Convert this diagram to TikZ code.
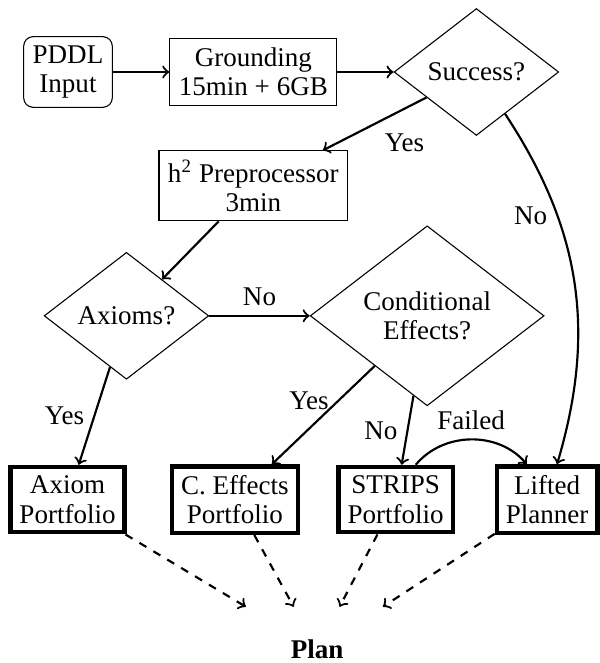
\documentclass[tikz,border=0pt]{standalone}
\usepackage{fontspec}
\setmainfont{Liberation Serif}
\usetikzlibrary{shapes,arrows,positioning}

\begin{document}
\begin{tikzpicture}[
    font=\fontsize{10}{10.8}\selectfont,
    node distance=1.5cm,
    inputbox/.style={rectangle, rounded corners=3.5pt, align=center, draw=black},
    process/.style={rectangle, align=center, draw=black},
    decision/.style={diamond, aspect=2, inner sep=1pt, minimum width=2.14cm, minimum height=1.65cm, align=center, draw=black},
    portfolio/.style={rectangle, align=center, draw=black, ultra thick},
    goal/.style={minimum width=1.95cm, minimum height=1.1cm, font=\fontsize{10}{10.8}\selectfont\bfseries},
    arrow/.style={->, thick}
]
\useasboundingbox (-0.884,0.936) rectangle (6.916,-7.684);

\node[inputbox] (pddl) {PDDL\\Input};
\node[process, right of=pddl, xshift=0.91cm] (ground) {Grounding\\15min + 6GB};
\node[decision, right of=ground, xshift=1.4cm] (success) {Success?};
\node[process, below of=ground, yshift=0.02cm] (h2) {h\textsuperscript{2} Preprocessor\\3min};
\node[decision, below of=h2, yshift=-0.19cm, xshift=-1.65cm] (axioms) {Axioms?};
\node[decision, right of=axioms, xshift=2.41cm, aspect=1.5, minimum width=3.04cm, minimum height=2.34cm] (cond) {Conditional\\Effects?};
\node[portfolio, below of=axioms, yshift=-0.89cm, xshift=-0.766cm] (axport) {Axiom\\Portfolio};
\node[portfolio, right of=axport, xshift=0.676cm] (ceff) {C. Effects\\Portfolio};
\node[portfolio, right of=ceff, xshift=0.59cm] (strips) {STRIPS\\Portfolio};
\node[portfolio, right of=strips, xshift=0.47cm] (lifted) {Lifted\\Planner};
\node[goal, below of=ceff, yshift=-0.45cm, xshift=1.07cm] (plan) {Plan};

\draw[arrow] (pddl) -- (ground);
\draw[arrow] (ground) -- (success);
\draw[arrow] (success) -- node[below right] {Yes} (h2);
\draw[arrow] (success) to[bend left=25] node[pos=0.3, left] {No} (lifted);
\draw[arrow] (h2) -- (axioms);
\draw[arrow] (axioms) -- node[above] {No} (cond);
\draw[arrow] (axioms) -- node[left] {Yes} (axport);
\draw[arrow] (cond) -- node[left, pos=0.35] {Yes} (ceff);
\draw[arrow] (cond) -- node[left] {No} (strips);
\draw[arrow] (strips.60) to[bend left=50] node[above] {Failed} (lifted.120);

\draw[arrow, dashed] (axport) -- (plan);
\draw[arrow, dashed] (ceff) -- (plan);
\draw[arrow, dashed] (strips) -- (plan);
\draw[arrow, dashed] (lifted) -- (plan);

\end{tikzpicture}
\end{document}
